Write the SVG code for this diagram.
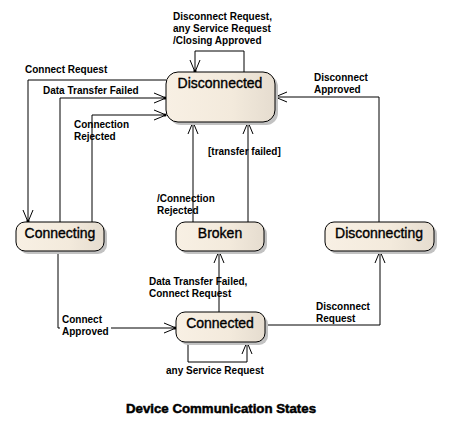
<svg xmlns="http://www.w3.org/2000/svg" width="451" height="441" viewBox="0 0 451 441">
<style>
.node{stroke:#000;stroke-width:1;fill:url(#g)}
.shadow{fill:#c2c2c2;stroke:none}
.nt{font-family:"Liberation Sans",Arial,sans-serif;font-size:14px;fill:#000;stroke:#000;stroke-width:0.35;text-anchor:middle}
.lb{font-family:"Liberation Sans",Arial,sans-serif;font-size:10px;font-weight:bold;fill:#000}
.c{fill:none;stroke:#000;stroke-width:1;marker-end:url(#arr)}
.title{font-family:"Liberation Sans",Arial,sans-serif;font-size:13px;font-weight:bold;fill:#000;stroke:#000;stroke-width:0.5}
</style>
<defs>
<linearGradient id="g" x1="0" y1="0" x2="1" y2="0">
<stop offset="0" stop-color="#f8f0e4"/>
<stop offset="0.6" stop-color="#f3eadc"/>
<stop offset="1" stop-color="#e5dccf"/>
</linearGradient>
<marker id="arr" markerUnits="userSpaceOnUse" markerWidth="16" markerHeight="14" viewBox="-13 -7 16 14" refX="0" refY="0" orient="auto">
<path d="M-12,-5 L0,0 L-12,5" fill="none" stroke="#000" stroke-width="1"/>
<circle cx="-1" cy="0" r="1.6" fill="#000"/>
</marker>
</defs>
<rect width="451" height="441" fill="#fff"/>
<g id="connectors">
<path class="c" d="M166,80 H28 V222"/>
<path class="c" d="M60,222 V98 H166"/>
<path class="c" d="M92,222 V115 H166"/>
<path class="c" d="M244,72 V51 H195 V72"/>
<path class="c" d="M379,222 V97 H275"/>
<path class="c" d="M248,222 V122"/>
<path class="c" d="M193,222 V122"/>
<path class="c" d="M219,312 V251"/>
<path class="c" d="M58,251 V328 H176"/>
<path class="c" d="M265,325 H380 V251"/>
<path class="c" d="M188,342 V362 H247 V342"/>
<rect x="60" y="313" width="51" height="25" fill="#fff"/>
<text class="lb" x="25" y="73">Connect Request</text>
<text class="lb" x="43" y="94">Data Transfer Failed</text>
<text class="lb" x="74" y="128">Connection</text>
<text class="lb" x="74" y="140">Rejected</text>
<text class="lb" x="173" y="20">Disconnect Request,</text>
<text class="lb" x="173" y="32">any Service Request</text>
<text class="lb" x="173" y="44">/Closing Approved</text>
<text class="lb" x="314" y="81">Disconnect</text>
<text class="lb" x="314" y="93">Approved</text>
<text class="lb" x="208" y="155">[transfer failed]</text>
<text class="lb" x="157" y="202">/Connection</text>
<text class="lb" x="157" y="214">Rejected</text>
<text class="lb" x="149" y="285">Data Transfer Failed,</text>
<text class="lb" x="149" y="297">Connect Request</text>
<text class="lb" x="62" y="323">Connect</text>
<text class="lb" x="62" y="335">Approved</text>
<text class="lb" x="316" y="310">Disconnect</text>
<text class="lb" x="316" y="322">Request</text>
<text class="lb" x="166" y="374">any Service Request</text>
</g>
<g id="disconnected">
<rect class="shadow" x="169" y="75" width="109" height="50" rx="12"/>
<rect class="node" x="166" y="72" width="109" height="50" rx="12"/>
<text class="nt" x="220" y="88">Disconnected</text>
</g>
<g id="connecting">
<rect class="shadow" x="19" y="225" width="88" height="29" rx="9"/>
<rect class="node" x="16" y="222" width="88" height="29" rx="9"/>
<text class="nt" x="60" y="238">Connecting</text>
</g>
<g id="broken">
<rect class="shadow" x="179" y="225" width="88" height="29" rx="9"/>
<rect class="node" x="176" y="222" width="88" height="29" rx="9"/>
<text class="nt" x="220" y="238">Broken</text>
</g>
<g id="disconnecting">
<rect class="shadow" x="328" y="225" width="109" height="29" rx="9"/>
<rect class="node" x="325" y="222" width="109" height="29" rx="9"/>
<text class="nt" x="379" y="238">Disconnecting</text>
</g>
<g id="connected">
<rect class="shadow" x="179" y="315" width="89" height="30" rx="9"/>
<rect class="node" x="176" y="312" width="89" height="30" rx="9"/>
<text class="nt" x="220" y="328">Connected</text>
</g>
<text class="title" x="126" y="413" textLength="190" lengthAdjust="spacingAndGlyphs">Device Communication States</text>
</svg>
